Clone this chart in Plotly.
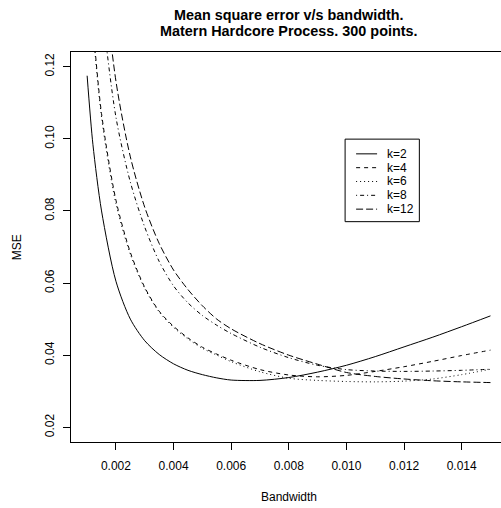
import plotly.graph_objects as go

# Bandwidth grid and mean square error for each k
bandwidth = [0.001, 0.0012, 0.0015, 0.002, 0.0025, 0.003, 0.0035, 0.004, 0.0045,
             0.005, 0.0055, 0.006, 0.007, 0.008, 0.009, 0.010, 0.011, 0.012,
             0.013, 0.014, 0.015]

mse_k2 = [0.1175, 0.0985, 0.0800, 0.0605, 0.0500, 0.0440, 0.0402, 0.0376, 0.0358,
          0.0346, 0.0337, 0.0331, 0.0330, 0.0338, 0.0353, 0.0372, 0.0396, 0.0423,
          0.0450, 0.0479, 0.0509]
mse_k4 = [0.156, 0.132, 0.107, 0.083, 0.0685, 0.0588, 0.0522, 0.0480, 0.0448,
          0.0422, 0.0403, 0.0386, 0.0360, 0.0345, 0.0340, 0.0344, 0.0355, 0.0368,
          0.0383, 0.0399, 0.0414]
mse_k6 = [0.155, 0.131, 0.106, 0.082, 0.0680, 0.0585, 0.0520, 0.0477, 0.0445,
          0.0419, 0.0400, 0.0382, 0.0354, 0.0336, 0.0330, 0.0327, 0.0326, 0.0328,
          0.0334, 0.0346, 0.0361]
mse_k8 = [0.200, 0.170, 0.138, 0.106, 0.0880, 0.0755, 0.0660, 0.0592, 0.0545,
          0.0510, 0.0483, 0.0460, 0.0422, 0.0393, 0.0372, 0.0360, 0.0356, 0.0355,
          0.0356, 0.0358, 0.0361]
mse_k12 = [0.223, 0.187, 0.152, 0.116, 0.0950, 0.0810, 0.0710, 0.0636, 0.0582,
           0.0537, 0.0500, 0.0473, 0.0432, 0.0400, 0.0375, 0.0352, 0.0341, 0.0334,
           0.0329, 0.0326, 0.0324]

series_names = ["k=2", "k=4", "k=6", "k=8", "k=12"]
series_values = [mse_k2, mse_k4, mse_k6, mse_k8, mse_k12]
# R-style line types: solid, dashed, dotted, dotdash, longdash
line_dashes = ["solid", "4px,4px", "1px,3px", "1px,3px,4px,3px", "7px,3px"]

x_ticks = [0.002, 0.004, 0.006, 0.008, 0.010, 0.012, 0.014]
x_tick_labels = ["0.002", "0.004", "0.006", "0.008", "0.010", "0.012", "0.014"]
y_ticks = [0.02, 0.04, 0.06, 0.08, 0.10, 0.12]
y_tick_labels = ["0.02", "0.04", "0.06", "0.08", "0.10", "0.12"]

FONT = "Liberation Sans, Arial, Helvetica, sans-serif"

# Plot-area geometry in pixels (used to place text and the key in paper units)
PLOT_LEFT, PLOT_WIDTH = 70.7, 430.3
PLOT_BOTTOM, PLOT_HEIGHT = 441.7, 389.4


def px_to_paper_x(px):
    return (px - PLOT_LEFT) / PLOT_WIDTH


def px_to_paper_y(py):
    return (PLOT_BOTTOM - py) / PLOT_HEIGHT


fig = go.Figure()
for name, vals, dash in zip(series_names, series_values, line_dashes):
    fig.add_trace(go.Scatter(
        x=bandwidth, y=vals, mode="lines", name=name,
        line=dict(color="black", width=1, dash=dash, shape="spline", smoothing=0.8),
    ))

# Compact boxed key in the style of R's legend()
shapes = [dict(type="rect", xref="paper", yref="paper", layer="above",
               x0=px_to_paper_x(345), x1=px_to_paper_x(419.3),
               y0=px_to_paper_y(139.3), y1=px_to_paper_y(221.7),
               line=dict(color="black", width=1), fillcolor="white")]
annotations = []
key_row_y = 154.0
for name, dash in zip(series_names, line_dashes):
    shapes.append(dict(type="line", xref="paper", yref="paper", layer="above",
                       x0=px_to_paper_x(356), x1=px_to_paper_x(377),
                       y0=px_to_paper_y(key_row_y), y1=px_to_paper_y(key_row_y),
                       line=dict(color="black", width=1, dash=dash)))
    annotations.append(dict(text=name, xref="paper", yref="paper",
                            x=px_to_paper_x(385), y=px_to_paper_y(key_row_y),
                            xanchor="left", yanchor="middle", showarrow=False,
                            font=dict(family=FONT, size=12, color="black")))
    key_row_y += 13.8

annotations += [
    dict(text="<b>Mean square error v/s bandwidth.</b>", xref="paper", yref="paper",
         x=px_to_paper_x(288.6), y=px_to_paper_y(15), xanchor="center", yanchor="middle",
         showarrow=False, font=dict(family=FONT, size=14.4, color="black")),
    dict(text="<b>Matern Hardcore Process. 300 points.</b>", xref="paper", yref="paper",
         x=px_to_paper_x(288.6), y=px_to_paper_y(31.7), xanchor="center", yanchor="middle",
         showarrow=False, font=dict(family=FONT, size=14.4, color="black")),
    dict(text="Bandwidth", xref="paper", yref="paper",
         x=px_to_paper_x(288.6), y=px_to_paper_y(496.7), xanchor="center", yanchor="middle",
         showarrow=False, font=dict(family=FONT, size=12, color="black")),
    dict(text="MSE", xref="paper", yref="paper", textangle=-90,
         x=px_to_paper_x(17), y=0.5, xanchor="center", yanchor="middle",
         showarrow=False, font=dict(family=FONT, size=12, color="black")),
]

fig.update_layout(
    width=501, height=508,
    margin=dict(l=PLOT_LEFT, r=0, t=52.3, b=508 - PLOT_BOTTOM),
    paper_bgcolor="white", plot_bgcolor="white",
    font=dict(family=FONT, size=12, color="black"),
    showlegend=False,
    xaxis=dict(
        range=[0.00044, 0.015365], showgrid=False, zeroline=False,
        showline=True, linecolor="black", linewidth=1, mirror=True,
        ticks="outside", ticklen=7, tickcolor="black", tickwidth=1,
        tickvals=x_ticks, ticktext=x_tick_labels, ticklabelstandoff=6,
    ),
    yaxis=dict(
        range=[0.01592, 0.12408], showgrid=False, zeroline=False,
        showline=True, linecolor="black", linewidth=1,
        ticks="outside", ticklen=7, tickcolor="black", tickwidth=1,
        tickvals=y_ticks, ticktext=y_tick_labels, tickangle=-90,
        ticklabelstandoff=4,
    ),
    shapes=shapes,
    annotations=annotations,
)

fig.write_html("out.html")
